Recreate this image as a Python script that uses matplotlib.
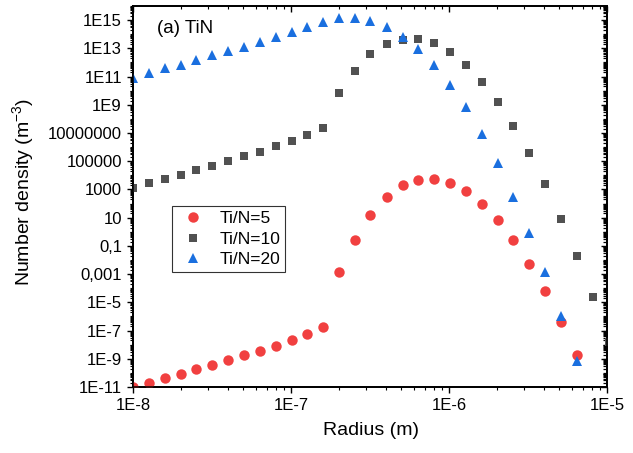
#!/usr/bin/env python3
"""
TiN particle size distribution for three Ti/N ratios.

Number density per radius bin on log-log axes, saved as out.png.
"""
import numpy as np
import matplotlib.pyplot as plt
from matplotlib.ticker import LogLocator, NullFormatter

plt.rcParams["font.family"] = ["Liberation Sans", "DejaVu Sans"]
plt.rcParams["mathtext.fontset"] = "custom"
plt.rcParams["mathtext.rm"] = "Liberation Sans"
plt.rcParams["mathtext.default"] = "regular"

# bin radii (nm), volume doubles from one bin to the next
radius_nm = [10.0, 12.6, 15.9, 20.0, 25.2, 31.7, 40.0, 50.4, 63.5, 80.0,
             100.8, 127.0, 160.0, 201.6, 254.0, 317.5, 403.2, 508.0, 640.0, 806.3,
             1015.9, 1280.0, 1612.7, 2031.9, 2560.0, 3225.4, 4063.7, 5120.0, 6450.8, 8127.5,
             10240.0]

# log10 of number density (m^-3)
log_n_ti5 = [-11.00, -10.70, -10.38, -10.06, -9.75, -9.44, -9.11, -8.75, -8.43, -8.07,
             -7.67, -7.27, -6.73, -2.83, -0.58, 1.19, 2.47, 3.29, 3.69, 3.74,
             3.46, 2.87, 1.99, 0.84, -0.58, -2.26, -4.18, -6.37, -8.71]
log_n_ti10 = [3.08, 3.44, 3.72, 4.03, 4.36, 4.66, 5.00, 5.35, 5.68, 6.06,
              6.41, 6.84, 7.33, 9.81, 11.37, 12.58, 13.29, 13.59, 13.64, 13.36,
              12.72, 11.80, 10.59, 9.18, 7.48, 5.56, 3.37, 0.91, -1.74, -4.62,
              -7.79]
log_n_ti20 = [10.92, 11.23, 11.59, 11.82, 12.15, 12.51, 12.83, 13.12, 13.47, 13.78,
              14.13, 14.49, 14.85, 15.13, 15.13, 14.96, 14.53, 13.82, 12.95, 11.82,
              10.43, 8.82, 6.93, 4.85, 2.49, -0.06, -2.87, -5.97, -9.14]

series_labels = ["Ti/N=5", "Ti/N=10", "Ti/N=20"]

x_tick_labels = ["1E-8", "1E-7", "1E-6", "1E-5"]
y_tick_labels = ["1E-11", "1E-9", "1E-7", "1E-5", "0,001", "0,1", "10", "1000",
                 "100000", "10000000", "1E9", "1E11", "1E13", "1E15"]

COLORS = ["#F14040", "#515151", "#1A6FDF"]
MARKERS = [("o", 7.5), ("s", 6.2), ("^", 7.8)]

XLIM = (1e-8, 1e-5)
YLIM = (1e-11, 1e16)


def main():
    r = np.array(radius_nm) * 1e-9

    fig = plt.figure(figsize=(6.33, 4.53), dpi=100)
    ax = fig.add_axes([0.2101, 0.1457, 0.7488, 0.8411])

    # mirrored ticks on top and right, pointing inward
    top = ax.twiny()
    top.set_xscale("log")
    top.set_xlim(*XLIM)
    top.set_xticks(10.0 ** np.arange(-8, -4))
    top.xaxis.set_minor_locator(LogLocator(base=10, subs=np.arange(1, 10), numticks=100))
    top.tick_params(which="both", direction="in", labeltop=False, width=0.8)
    top.tick_params(which="major", length=4.5, width=1.0)
    top.tick_params(which="minor", length=2.5)

    right = ax.twinx()
    right.set_yscale("log")
    right.set_ylim(*YLIM)
    right.set_yticks(10.0 ** np.arange(-11, 16, 2))
    right.yaxis.set_minor_locator(LogLocator(base=10, subs=np.arange(1, 10), numticks=100))
    right.tick_params(which="both", direction="in", labelright=False, width=0.9)
    right.tick_params(which="major", length=4.5, width=1.0)
    right.tick_params(which="minor", length=3.0)

    # keep the data and legend above the tick-only axes
    ax.set_zorder(3)
    ax.patch.set_visible(False)

    for logn, lab, col, (mk, ms) in zip([log_n_ti5, log_n_ti10, log_n_ti20],
                                        series_labels, COLORS, MARKERS):
        n = 10.0 ** np.array(logn)
        ax.plot(r[:len(n)], n, ls="none", marker=mk, ms=ms, mew=0,
                color=col, label=lab)

    ax.set_xscale("log")
    ax.set_yscale("log")
    ax.set_xlim(*XLIM)
    ax.set_ylim(*YLIM)

    ax.set_xticks(10.0 ** np.arange(-8, -4), x_tick_labels)
    ax.set_yticks(10.0 ** np.arange(-11, 16, 2), y_tick_labels)
    ax.xaxis.set_minor_locator(LogLocator(base=10, subs=np.arange(1, 10), numticks=100))
    ax.yaxis.set_minor_locator(LogLocator(base=10, subs=np.arange(1, 10), numticks=100))
    ax.xaxis.set_minor_formatter(NullFormatter())
    ax.yaxis.set_minor_formatter(NullFormatter())
    ax.tick_params(which="major", direction="out", length=4.5, width=1.0,
                   labelsize=12, pad=3.5)
    ax.tick_params(which="minor", direction="out", length=2.5, width=0.8)
    for a in (ax, top, right):
        for sp in a.spines.values():
            sp.set_linewidth(1.1)

    ax.set_xlabel("Radius (m)", fontsize=14)
    ax.xaxis.set_label_coords(0.502, -0.093)
    ax.set_ylabel("Number density (m$^{-3}$)", fontsize=14)
    ax.yaxis.set_label_coords(-0.205, 0.512)

    ax.text(0.05, 0.942, "(a) TiN", transform=ax.transAxes, fontsize=13.5,
            ha="left", va="center")

    leg = ax.legend(loc="upper left", bbox_to_anchor=(0.0816, 0.475),
                    borderaxespad=0, fontsize=12.5, frameon=True, fancybox=False,
                    edgecolor="black", handlelength=1.9, handletextpad=0.55,
                    borderpad=0.3, labelspacing=0.3)
    leg.get_frame().set_linewidth(0.8)

    fig.savefig("out.png", dpi=100, facecolor="white")
    plt.close(fig)


if __name__ == "__main__":
    main()
